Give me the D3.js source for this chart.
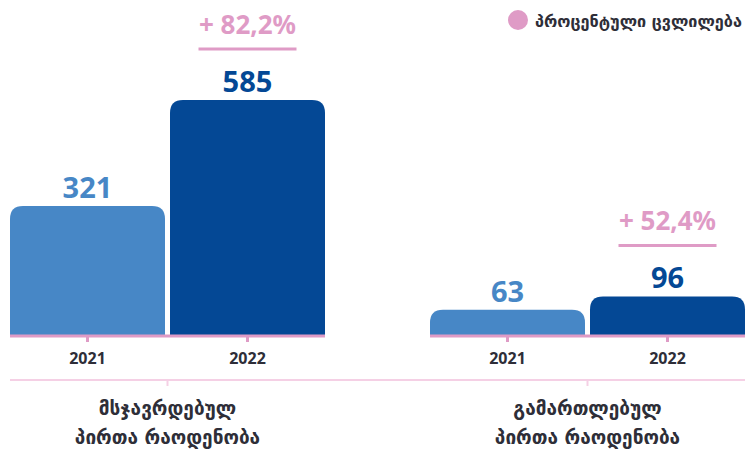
<!DOCTYPE html>
<html><head><meta charset="utf-8">
<script src="https://cdn.jsdelivr.net/npm/d3@7"></script>
<style>
html,body{margin:0;padding:0;background:#fff;}
svg{display:block;font-family:"Noto Sans","DejaVu Sans",sans-serif;}
</style></head>
<body>
<svg id="chart" width="747" height="449"></svg>
<script>
const groups = [["მსჯავრდებულ","პირთა რაოდენობა"],["გამართლებულ","პირთა რაოდენობა"]];
const groupKeys = ["g1","g2"];
const years = ["2021","2022"];
const values2021 = [321, 63];
const values2022 = [585, 96];
const changes = ["+ 82,2%", "+ 52,4%"];
const legendLabel = "პროცენტული ცვლილება";

const colors = {"2021":"#4787c6","2022":"#044895"};
const pink = "#df9bc6";
const dark = "#2e2e38";

const svg = d3.select("#chart");
const base = 335;
const x0 = d3.scaleBand().domain(groupKeys).range([10,745]).paddingInner(0.25).paddingOuter(0);
const x1 = d3.scaleBand().domain(years).range([0,x0.bandwidth()]).paddingInner(0.03125).paddingOuter(0);
const y = d3.scaleLinear().domain([0,585]).range([base,100]);

function topRounded(x,yTop,w,h,r){
  r=Math.min(r,h,w/2);
  return `M${x},${yTop+h}V${yTop+r}Q${x},${yTop} ${x+r},${yTop}H${x+w-r}Q${x+w},${yTop} ${x+w},${yTop+r}V${yTop+h}Z`;
}

const data = groupKeys.map((k,i)=>({key:k, vals:[{year:"2021",v:values2021[i]},{year:"2022",v:values2022[i]}], change:changes[i], label:groups[i]}));

const g = svg.selectAll("g.grp").data(data).join("g").attr("class","grp")
  .attr("transform",d=>`translate(${x0(d.key)},0)`);

g.selectAll("path.bar").data(d=>d.vals).join("path").attr("class","bar")
  .attr("d",d=>topRounded(x1(d.year), y(d.v), x1.bandwidth(), base-y(d.v), 13))
  .attr("fill",d=>colors[d.year]);

g.selectAll("text.val").data(d=>d.vals).join("text").attr("class","val")
  .attr("x",d=>x1(d.year)+x1.bandwidth()/2)
  .attr("y",d=>y(d.v)-8)
  .attr("text-anchor","middle")
  .attr("font-size",29).attr("font-weight",700)
  .attr("fill",d=>colors[d.year])
  .text(d=>d.v);

// inner axis
g.each(function(d){
  const gg=d3.select(this);
  const ax=d3.axisBottom(x1).tickSize(7).tickPadding(11);
  const a=gg.append("g").attr("transform",`translate(0,${base})`).call(ax);
  a.attr("font-family",null).attr("font-size",null);
  a.select(".domain").attr("d",`M0,1H${x0.bandwidth()}`).attr("stroke",pink).attr("stroke-width",3);
  a.selectAll(".tick line").attr("stroke",pink).attr("stroke-width",3);
  a.selectAll(".tick text").attr("font-size",16).attr("font-weight",700).attr("fill",dark);
  const v22=d.vals[1].v;
  const cx=x1("2022")+x1.bandwidth()/2;
  const lineY=y(v22)-8-43;
  gg.append("line").attr("x1",cx-49).attr("x2",cx+49).attr("y1",lineY).attr("y2",lineY)
    .attr("stroke",pink).attr("stroke-width",3);
  gg.append("text").attr("x",cx).attr("y",lineY-15).attr("text-anchor","middle")
    .attr("font-size",26).attr("font-weight",700).attr("fill",pink).text(d.change);
});

// outer axis
const outer = svg.append("g").attr("transform","translate(0,380)");
outer.append("line").attr("x1",10).attr("x2",745).attr("y1",0).attr("y2",0).attr("stroke","#f5d0e5").attr("stroke-width",2);
outer.selectAll("line.ot").data(data).join("line").attr("class","ot")
  .attr("x1",d=>x0(d.key)+x0.bandwidth()/2).attr("x2",d=>x0(d.key)+x0.bandwidth()/2)
  .attr("y1",0).attr("y2",6).attr("stroke","#f5d0e5").attr("stroke-width",2);
const lab = outer.selectAll("text.cat").data(data).join("text").attr("class","cat")
  .attr("text-anchor","middle").attr("font-size",19).attr("font-weight",700).attr("fill",dark)
  .attr("font-family","'DejaVu Sans',sans-serif");
lab.selectAll("tspan").data(d=>d.label.map(t=>({t,x:x0(d.key)+x0.bandwidth()/2}))).join("tspan")
  .attr("x",d=>d.x).attr("y",(d,i)=>35+i*29).text(d=>d.t);

// legend
const lg = svg.append("g");
lg.append("circle").attr("cx",518).attr("cy",20).attr("r",10).attr("fill",pink);
const lt = lg.append("text").attr("x",535).attr("y",27).attr("font-size",16).attr("font-weight",700)
  .attr("fill",dark).attr("font-family","'DejaVu Sans',sans-serif").text(legendLabel);
const len = lt.node().getComputedTextLength();
const target = 207;
if (len > 0) lt.attr("font-size", Math.min(18, 16*target/len));
</script>
</body></html>
